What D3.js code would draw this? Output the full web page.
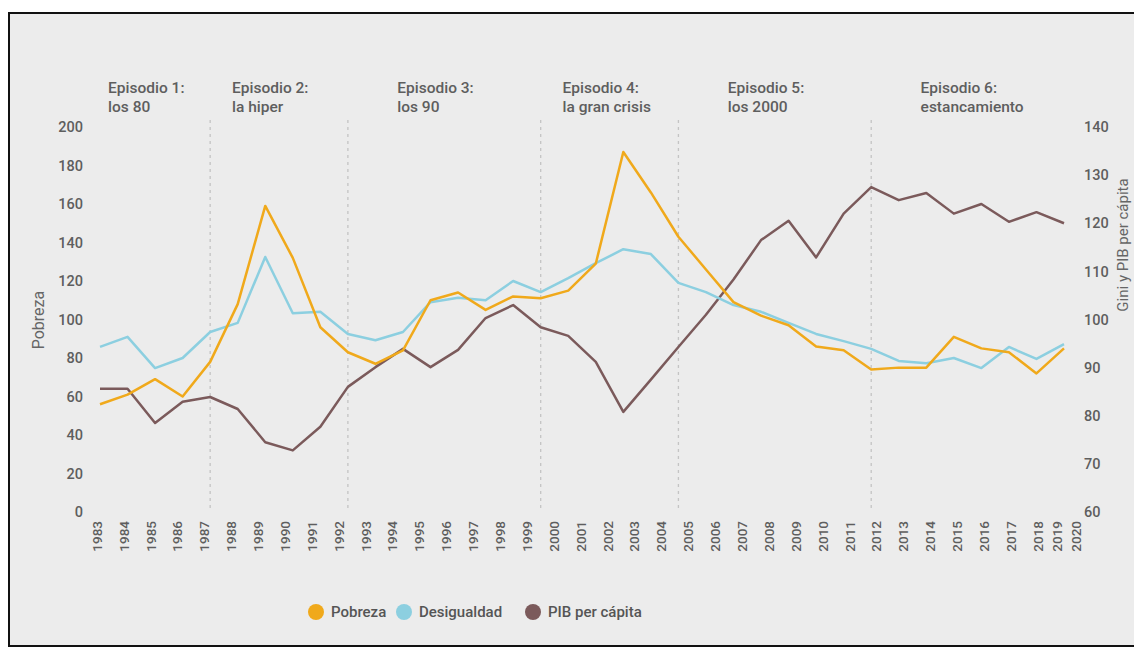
<!DOCTYPE html>
<html>
<head>
<meta charset="utf-8">
<script src="https://cdn.jsdelivr.net/npm/d3@7"></script>
<style>
  body { margin: 0; background: #fff; }
  text { font-family: Roboto, "Noto Sans", sans-serif; }
</style>
</head>
<body>
<script>
'use strict';

{
	// data points, one per year
	let years = [1983, 1984, 1985, 1986, 1987, 1988, 1989, 1990, 1991, 1992, 1993, 1994,
		1995, 1996, 1997, 1998, 1999, 2000, 2001, 2002, 2003, 2004, 2005, 2006,
		2007, 2008, 2009, 2010, 2011, 2012, 2013, 2014, 2015, 2016, 2017, 2018];

	let pobreza = [56, 61, 69, 60, 78, 108, 159, 132, 96, 83, 77, 84,
		110, 114, 105, 112, 111, 115, 129, 187, 166, 143, 126, 109,
		102, 97, 86, 84, 74, 75, 75, 91, 85, 83, 72, 85];

	let desigualdad = [94.3, 96.4, 89.9, 92, 97.4, 99.3, 113, 101.3, 101.6, 97, 95.7, 97.4,
		103.6, 104.5, 104, 108, 105.7, 108.6, 111.7, 114.6, 113.6, 107.6, 105.7, 103,
		101.6, 99.3, 97, 95.5, 93.9, 91.4, 90.9, 92, 89.9, 94.3, 91.8, 94.9];

	let pib = [85.6, 85.6, 78.5, 82.9, 83.9, 81.4, 74.5, 72.8, 77.7, 86, 90.1, 93.9,
		90.1, 93.7, 100.3, 103, 98.4, 96.6, 91.2, 80.8, 87.5, 94.3, 101, 108.3,
		116.5, 120.5, 112.9, 122, 127.5, 124.8, 126.3, 122, 124, 120.3, 122.3, 120];

	// x axis labels (the original axis runs to 2020)
	let tickLabels = ['1983', '1984', '1985', '1986', '1987', '1988', '1989', '1990', '1991', '1992',
		'1993', '1994', '1995', '1996', '1997', '1998', '1999', '2000', '2001', '2002',
		'2003', '2004', '2005', '2006', '2007', '2008', '2009', '2010', '2011', '2012',
		'2013', '2014', '2015', '2016', '2017', '2018', '2019', '2020'];

	let leftTicks = [0, 20, 40, 60, 80, 100, 120, 140, 160, 180, 200];
	let rightTicks = [60, 70, 80, 90, 100, 110, 120, 130, 140];

	let episodeTitles = ['Episodio 1:', 'Episodio 2:', 'Episodio 3:', 'Episodio 4:', 'Episodio 5:', 'Episodio 6:'];
	let episodeSubs = ['los 80', 'la hiper', 'los 90', 'la gran crisis', 'los 2000', 'estancamiento'];
	let episodeStart = [1983, 1987, 1992, 1999, 2004, 2011];
	let episodeEnd = [1987, 1992, 1999, 2004, 2011, 2018];

	let seriesNames = ['Pobreza', 'Desigualdad', 'PIB per cápita'];
	let colors = ['#f0a91b', '#8ccfe0', '#7b5a5b'];

	let width = 1134, height = 648;
	let plotTop = 127, plotBottom = 512;

	let svg = d3.select('body').append('svg')
		.attr('width', width)
		.attr('height', height);

	// frame
	svg.append('rect')
		.attr('x', 9).attr('y', 13)
		.attr('width', 1140).attr('height', 633)
		.attr('fill', '#ececec')
		.attr('stroke', '#111')
		.attr('stroke-width', 2);

	let x = d3.scalePoint()
		.domain(years)
		.range([100, 1064]);

	let yLeft = d3.scaleLinear()
		.domain([0, 200])
		.range([plotBottom, plotTop]);

	let yRight = d3.scaleLinear()
		.domain([60, 140])
		.range([plotBottom, plotTop]);

	// label positions: 1983..2018 spread evenly, last two squeezed at the end
	let xLab = d3.scalePoint()
		.domain(tickLabels.slice(0, 36))
		.range([97, 1038]);
	let labelX = (d, i) => i < 36 ? xLab(d) : xLab('2018') + (i - 35) * 19;

	// episode separators
	svg.append('g').selectAll('line')
		.data(episodeStart.slice(1))
		.enter()
		.append('line')
		.attr('x1', d => x(d)).attr('x2', d => x(d))
		.attr('y1', 120).attr('y2', plotBottom)
		.attr('stroke', '#c4c4c4')
		.attr('stroke-width', 1.3)
		.attr('stroke-dasharray', '3,4');

	// episode labels
	let epX = i => (x(episodeStart[i]) + x(episodeEnd[i])) / 2 - 47;
	let epi = svg.append('g').selectAll('text')
		.data(episodeTitles)
		.enter()
		.append('text')
		.attr('x', (d, i) => epX(i))
		.attr('y', 93)
		.attr('fill', '#5e5e5e')
		.attr('font-size', 15.5)
		.attr('font-weight', 500);
	epi.append('tspan').text(d => d);
	epi.append('tspan')
		.attr('x', (d, i) => epX(i))
		.attr('dy', 19)
		.text((d, i) => episodeSubs[i]);

	// left axis
	let leftAxis = svg.append('g')
		.attr('transform', 'translate(83,0)')
		.call(d3.axisLeft(yLeft).tickValues(leftTicks).tickSize(0).tickPadding(0));
	leftAxis.select('.domain').remove();
	leftAxis.selectAll('text')
		.attr('fill', '#5e5e5e')
		.attr('font-size', 14.5)
		.attr('font-weight', 500);

	// right axis
	let rightAxis = svg.append('g')
		.attr('transform', 'translate(1084,0)')
		.call(d3.axisRight(yRight).tickValues(rightTicks).tickSize(0).tickPadding(0));
	rightAxis.select('.domain').remove();
	rightAxis.selectAll('text')
		.attr('fill', '#5e5e5e')
		.attr('font-size', 14.5)
		.attr('font-weight', 500);

	// year labels
	svg.append('g').selectAll('text')
		.data(tickLabels)
		.enter()
		.append('text')
		.attr('transform', (d, i) => `translate(${labelX(d, i)},521) rotate(-90)`)
		.attr('text-anchor', 'end')
		.attr('dy', '0.35em')
		.attr('fill', '#5e5e5e')
		.attr('font-size', 13.5)
		.attr('font-weight', 500)
		.text(d => d);

	// axis titles
	svg.append('text')
		.attr('transform', 'translate(44,320) rotate(-90)')
		.attr('text-anchor', 'middle')
		.attr('fill', '#666')
		.attr('font-size', 16)
		.text('Pobreza');

	svg.append('text')
		.attr('transform', 'translate(1128,245) rotate(-90)')
		.attr('text-anchor', 'middle')
		.attr('fill', '#666')
		.attr('font-size', 15)
		.text('Gini y PIB per cápita');

	// lines
	let lineLeft = d3.line()
		.x((d, i) => x(years[i]))
		.y(d => yLeft(d));
	let lineRight = d3.line()
		.x((d, i) => x(years[i]))
		.y(d => yRight(d));

	svg.append('path')
		.datum(pib)
		.attr('d', lineRight)
		.attr('fill', 'none')
		.attr('stroke', colors[2])
		.attr('stroke-width', 2.5)
		.attr('stroke-linejoin', 'round');

	svg.append('path')
		.datum(desigualdad)
		.attr('d', lineRight)
		.attr('fill', 'none')
		.attr('stroke', colors[1])
		.attr('stroke-width', 2.5)
		.attr('stroke-linejoin', 'round');

	svg.append('path')
		.datum(pobreza)
		.attr('d', lineLeft)
		.attr('fill', 'none')
		.attr('stroke', colors[0])
		.attr('stroke-width', 2.5)
		.attr('stroke-linejoin', 'round');

	// legend
	let legendX = [316, 404, 533];
	let legend = svg.append('g').selectAll('g')
		.data(seriesNames)
		.enter()
		.append('g')
		.attr('transform', (d, i) => `translate(${legendX[i]},612)`);
	legend.append('circle')
		.attr('r', 8)
		.attr('fill', (d, i) => colors[i]);
	legend.append('text')
		.attr('x', 15)
		.attr('dy', '0.35em')
		.attr('fill', '#555')
		.attr('font-size', 15)
		.attr('font-weight', 500)
		.text(d => d);
}
</script>
</body>
</html>
